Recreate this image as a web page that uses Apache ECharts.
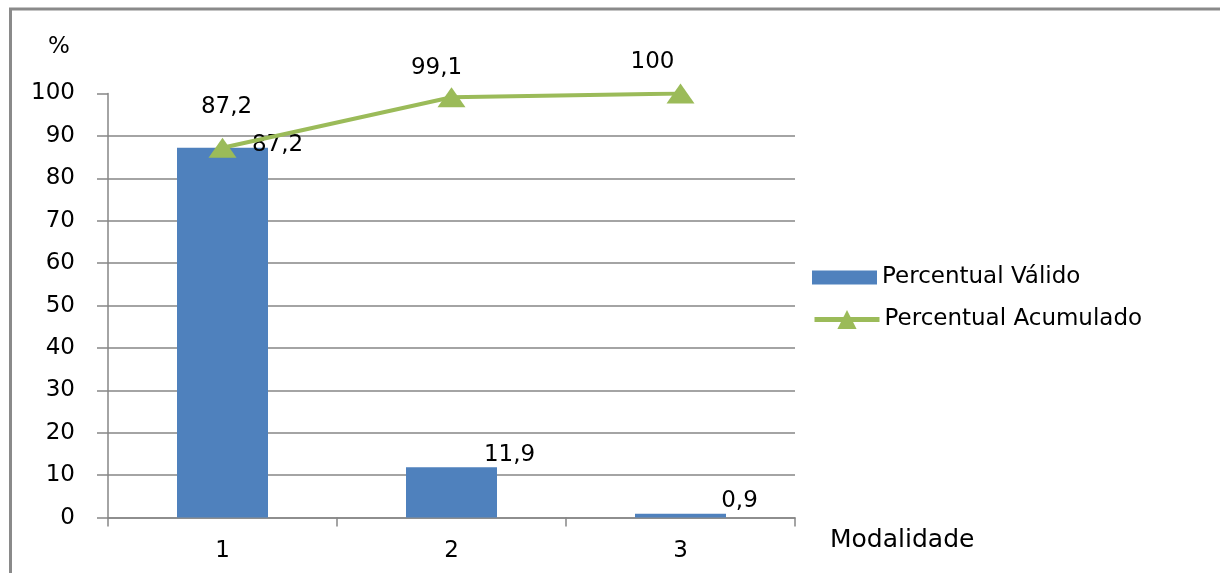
<!DOCTYPE html>
<html>
<head>
<meta charset="utf-8">
<script src="https://cdn.jsdelivr.net/npm/echarts@6/dist/echarts.min.js"></script>
<style>
  html, body { margin: 0; padding: 0; background: #fff; }
  #chart { width: 1220px; height: 573px; }
</style>
</head>
<body>
<div id="chart"></div>
<script>
// Categories and values
const categories = ['1', '2', '3'];
const percentValido = [87.2, 11.9, 0.9];
const percentAcumulado = [87.2, 99.1, 100];
const seriesNames = ['Percentual Válido', 'Percentual Acumulado'];
const yAxisName = '%';
const xAxisName = 'Modalidade';

const FONT = 'DejaVu Sans, Verdana, sans-serif';
const GRAY = '#868686';
const BLUE = '#4F81BD';
const GREEN = '#9BBB59';

// label nudges per point (pixels)
const barLabelOffsets = [[55, 14], [58, 4], [59, 4]];
const lineLabelOffsets = [[4, -14], [-15, -3], [-28, -5]];

const fmt = v => String(v).replace('.', ',');

const chart = echarts.init(document.getElementById('chart'), null, { renderer: 'canvas' });

chart.setOption({
  animation: false,
  backgroundColor: '#fff',
  textStyle: { fontFamily: FONT },
  grid: { left: 108, right: 425, top: 93.5, bottom: 55.4, containLabel: false },
  xAxis: {
    type: 'category',
    data: categories,
    boundaryGap: true,
    axisLine: { show: true, lineStyle: { color: GRAY, width: 1.5 } },
    axisTick: { show: true, length: 9, lineStyle: { color: GRAY, width: 1.5 } },
    axisLabel: { color: '#000', fontSize: 23, margin: 22, fontFamily: FONT },
    splitLine: { show: false }
  },
  yAxis: {
    type: 'value',
    min: 0,
    max: 100,
    interval: 10,
    axisLine: { show: true, lineStyle: { color: GRAY, width: 1.5 } },
    axisTick: { show: true, length: 11, lineStyle: { color: GRAY, width: 1.5 } },
    axisLabel: { color: '#000', fontSize: 23, margin: 33, fontFamily: FONT },
    splitLine: { show: true, showMaxLine: false, lineStyle: { color: GRAY, width: 1.5 } }
  },
  legend: [
    {
      data: [{ name: seriesNames[0], icon: 'rect' }],
      orient: 'vertical',
      left: 807,
      top: 261,
      itemWidth: 65,
      itemHeight: 14,
      textStyle: { color: '#000', fontSize: 23, fontFamily: FONT }
    },
    {
      data: [seriesNames[1]],
      orient: 'vertical',
      left: 807,
      top: 303,
      itemWidth: 65,
      itemHeight: 24,
      lineStyle: { width: 5 },
      textStyle: { color: '#000', fontSize: 23, fontFamily: FONT }
    }
  ],
  series: [
    {
      name: seriesNames[0],
      type: 'bar',
      data: percentValido.map((v, i) => ({
        value: v,
        label: { offset: barLabelOffsets[i] }
      })),
      barWidth: 91,
      itemStyle: { color: BLUE },
      label: {
        show: true,
        position: 'top',
        color: '#000',
        fontSize: 23,
        fontFamily: FONT,
        formatter: p => fmt(p.value)
      },
      z: 2
    },
    {
      name: seriesNames[1],
      type: 'line',
      data: percentAcumulado.map((v, i) => ({
        value: v,
        label: { offset: lineLabelOffsets[i] }
      })),
      symbol: 'triangle',
      symbolSize: [28, 20],
      lineStyle: { color: GREEN, width: 4 },
      itemStyle: { color: GREEN },
      label: {
        show: true,
        position: 'top',
        color: '#000',
        fontSize: 23,
        fontFamily: FONT,
        formatter: p => fmt(p.value)
      },
      z: 3
    }
  ],
  graphic: [
    {
      type: 'rect',
      shape: { x: 10.5, y: 9, width: 1240, height: 600 },
      style: { fill: 'none', stroke: '#8a8a8a', lineWidth: 3 },
      silent: true,
      z: 10
    },
    {
      type: 'text',
      left: 48,
      top: 36,
      style: { text: yAxisName, fontSize: 23, fontFamily: FONT, fill: '#000' }
    },
    {
      type: 'text',
      left: 830,
      top: 528,
      style: { text: xAxisName, fontSize: 25, fontFamily: FONT, fill: '#000' }
    }
  ]
});
</script>
</body>
</html>
